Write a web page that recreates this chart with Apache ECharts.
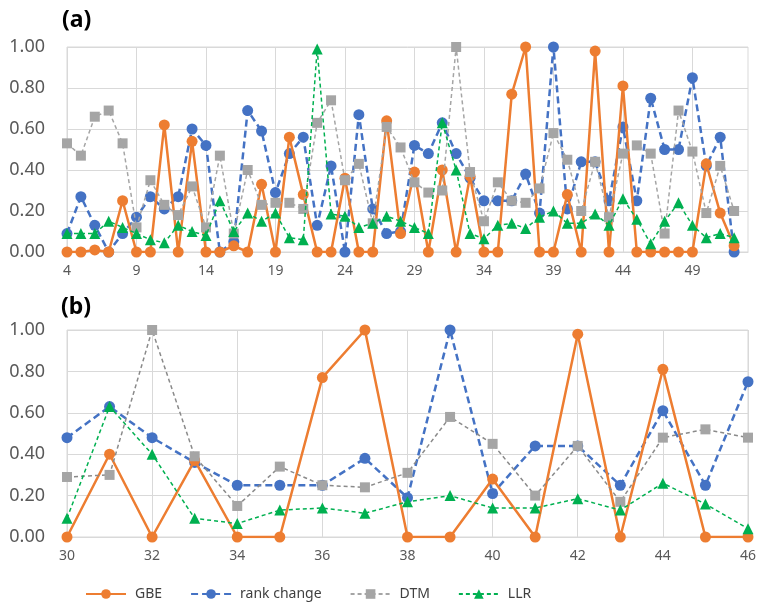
<!DOCTYPE html>
<html><head><meta charset="utf-8">
<script src="https://cdn.jsdelivr.net/npm/echarts@6/dist/echarts.min.js"></script>
<style>html,body{margin:0;padding:0;background:#fff}#c{width:759px;height:605px}</style>
</head><body><div id="c"></div>
<script>
// Panel (a) categories (53 is an empty slot at the right edge of the plot)
const categoriesA = ['4','5','6','7','8','9','10','11','12','13','14','15','16','17','18','19','20','21','22','23','24','25','26','27','28','29','30','31','32','33','34','35','36','37','38','39','40','41','42','43','44','45','46','47','48','49','50','51','52','53'];
// Panel (b) categories
const categoriesB = ['30','31','32','33','34','35','36','37','38','39','40','41','42','43','44','45','46'];
const yTicks = [0, 0.2, 0.4, 0.6, 0.8, 1.0];

// values for categories 4..52
const gbe = [0,0,0.01,0,0.25,0,0,0.62,0,0.54,0,0,0.03,0,0.33,0,0.56,0.28,0,0,0.36,0,0,0.64,0.09,0.39,
  0,0.40,0,0.37,0,0,0.77,1.00,0,0,0.28,0,0.98,0,0.81,0,0,0,0,0,0.43,0.19,0.03];
const rankChange = [0.09,0.27,0.13,0.0,0.09,0.17,0.27,0.21,0.27,0.60,0.52,0.0,0.05,0.69,0.59,0.29,0.48,0.56,0.13,0.42,0.0,0.67,0.21,0.09,0.10,0.52,
  0.48,0.63,0.48,0.36,0.25,0.25,0.25,0.38,0.19,1.00,0.21,0.44,0.44,0.25,0.61,0.25,0.75,0.50,0.50,0.85,0.42,0.56,0.0];
const dtm = [0.53,0.47,0.66,0.69,0.53,0.12,0.35,0.23,0.18,0.32,0.12,0.47,0.09,0.40,0.23,0.24,0.24,0.21,0.63,0.74,0.35,0.43,0.14,0.61,0.51,0.34,
  0.29,0.30,1.00,0.39,0.15,0.34,0.25,0.24,0.31,0.58,0.45,0.20,0.44,0.17,0.48,0.52,0.48,0.09,0.69,0.49,0.19,0.42,0.20];
const llr = [0.09,0.09,0.09,0.15,0.12,0.09,0.06,0.045,0.13,0.10,0.08,0.25,0.10,0.19,0.15,0.19,0.07,0.06,0.99,0.185,0.175,0.12,0.14,0.175,0.15,0.12,
  0.09,0.63,0.40,0.09,0.065,0.13,0.14,0.115,0.17,0.20,0.14,0.14,0.185,0.13,0.26,0.16,0.04,0.15,0.24,0.13,0.07,0.09,0.07];

const bStart = categoriesA.indexOf('30'), bEnd = categoriesA.indexOf('46') + 1;

const FONT = 'Noto Sans';
const C = {gbe:'#ED7D31', rank:'#4472C4', dtm:'#A5A5A5', llr:'#00B050'};

function makeSeries(idx, darkGray) {
  const sl = a => idx === 0 ? a : a.slice(bStart, bEnd);
  const base = {type:'line', xAxisIndex:idx, yAxisIndex:idx, showAllSymbol:true};
  return [
    Object.assign({name:'GBE', data:sl(gbe), symbol:'circle', symbolSize:11,
     lineStyle:{color:C.gbe, width:2.5}, itemStyle:{color:C.gbe}, z:3}, base),
    Object.assign({name:'rank change', data:sl(rankChange), symbol:'circle', symbolSize:11,
     lineStyle:{color:C.rank, width:2.5, type:[7,4]}, itemStyle:{color:C.rank}, z:2}, base),
    Object.assign({name:'DTM', data:sl(dtm), symbol:'rect', symbolSize:10,
     lineStyle:{color:darkGray ? '#8a8a8a' : '#A5A5A5', width:1.5, type:[4,3]}, itemStyle:{color:C.dtm}, z:4}, base),
    Object.assign({name:'LLR', data:sl(llr), symbol:'triangle', symbolSize:11,
     lineStyle:{color:C.llr, width:1.5, type:[4,3]}, itemStyle:{color:C.llr}, z:5}, base)
  ];
}

function xAxis(idx, cats, step) {
  return {type:'category', gridIndex:idx, data:cats, boundaryGap:false,
    axisLine:{lineStyle:{color:'#D9D9D9'}}, axisTick:{show:false},
    axisLabel:{interval:step, color:'#595959', fontFamily:FONT, fontSize:14, margin:12},
    splitLine:{show:true, interval:step, lineStyle:{color:'#D9D9D9', width:1}}};
}
function yAxis(idx) {
  return {type:'value', gridIndex:idx, min:yTicks[0], max:yTicks[yTicks.length-1], interval:yTicks[1]-yTicks[0],
    axisLine:{show:false}, axisTick:{show:false},
    axisLabel:{formatter:v => v.toFixed(2), color:'#595959', fontFamily:FONT, fontSize:18, margin:22},
    splitLine:{lineStyle:{color:'#D9D9D9', width:1}}};
}

const chart = echarts.init(document.getElementById('c'), null, {renderer:'canvas'});
chart.setOption({
  animation:false,
  backgroundColor:'#fff',
  title:[
    {text:'(a)', left:57, top:4, textStyle:{fontFamily:FONT, fontWeight:'bold', fontSize:23, color:'#000'}},
    {text:'(b)', left:56, top:291, textStyle:{fontFamily:FONT, fontWeight:'bold', fontSize:23, color:'#000'}}
  ],
  grid:[
    {left:67, right:11, top:47, height:205, show:true, borderColor:'#D9D9D9', borderWidth:1},
    {left:67, right:11, top:330, height:207, show:true, borderColor:'#D9D9D9', borderWidth:1}
  ],
  xAxis:[xAxis(0, categoriesA, 4), xAxis(1, categoriesB, 1)],
  yAxis:[yAxis(0), yAxis(1)],
  legend:{left:80, top:582, itemWidth:40, itemHeight:12, itemGap:28,
    data:['GBE','rank change','DTM','LLR'],
    textStyle:{fontFamily:FONT, fontSize:14, color:'#404040', padding:[0,0,0,4]}},
  series:[...makeSeries(0,false), ...makeSeries(1,true)]
});
</script></body></html>
